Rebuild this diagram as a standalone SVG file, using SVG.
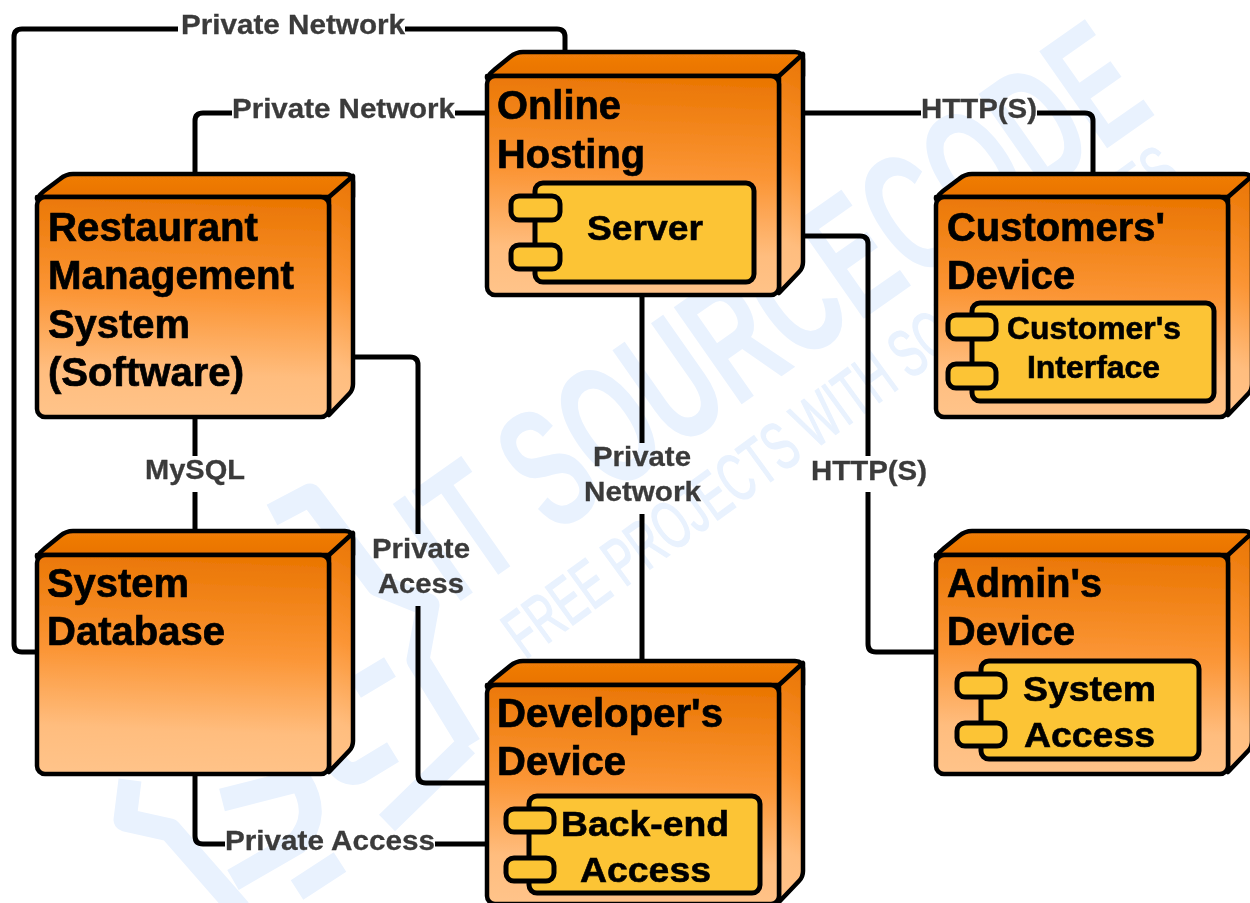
<svg xmlns="http://www.w3.org/2000/svg" width="1250" height="903" viewBox="0 0 1250 903">
<defs>
<linearGradient id="front" x1="0.52" y1="0" x2="0.47" y2="1"><stop offset="0" stop-color="#ea7603"/><stop offset="0.45" stop-color="#fb9535"/><stop offset="0.8" stop-color="#ffbd7e"/><stop offset="1" stop-color="#ffc389"/></linearGradient>
<linearGradient id="topface" x1="0" y1="0" x2="0" y2="1"><stop offset="0" stop-color="#f07d08"/><stop offset="1" stop-color="#e97300"/></linearGradient>
<filter id="soft" filterUnits="userSpaceOnUse" x="0" y="0" width="1250" height="903"><feGaussianBlur stdDeviation="0.6"/></filter>
<style>
.front{fill:url(#front);stroke:#000;stroke-width:4.5;stroke-linejoin:round}
.side{fill:url(#front);stroke:#000;stroke-width:4.5;stroke-linejoin:round}
.top{fill:url(#topface);stroke:#000;stroke-width:4.5;stroke-linejoin:round}
.comp{fill:#fcc435;stroke:#000;stroke-width:5}
.wire{fill:none;stroke:#000;stroke-width:5}
.nt{font-family:"Liberation Sans",Arial,sans-serif;font-weight:700;font-size:40px;fill:#000;stroke:#000;stroke-width:0.7}
.ct{font-family:"Liberation Sans",Arial,sans-serif;font-weight:700;font-size:35px;fill:#000;stroke:#000;stroke-width:0.6}
.cs{font-family:"Liberation Sans",Arial,sans-serif;font-weight:700;font-size:31px;fill:#000;stroke:#000;stroke-width:0.6}
.el{font-family:"Liberation Sans",Arial,sans-serif;font-weight:700;font-size:28px;fill:#3a3a3a;stroke:#3a3a3a;stroke-width:0.3}
.wm{font-family:"Liberation Sans",Arial,sans-serif;fill:#e9f2fe;font-weight:700}
.ws{font-family:"Liberation Sans",Arial,sans-serif;fill:#e9f2fe;stroke:#e9f2fe;stroke-width:1.5;font-weight:400}
.wl{fill:none;stroke:#e9f2fe;stroke-width:23;stroke-linejoin:round}
</style>
</defs>
<rect width="1250" height="903" fill="#fff"/>
<g filter="url(#soft)">
<g id="watermark">
<text class="wm" font-size="172" transform="translate(455 605) rotate(-35)" textLength="858" lengthAdjust="spacingAndGlyphs">IT SOURCECODE</text>
<text class="ws" font-size="68" transform="translate(525 660) rotate(-36)" textLength="815" lengthAdjust="spacingAndGlyphs">FREE PROJECTS WITH SOURCE CODES</text>
<path class="wl" d="M130 780L125 820L170 830L240 910"/>
<path class="wl" d="M272 515L310 495L378 585L428 605L418 660L470 745"/>
<path class="wl" d="M393 752L360 772Q345 778 335 760"/>
<path class="wl" d="M222 800L300 780Q322 815 297 843L233 880"/>
<path class="wl" d="M390 667L355 688M297 890L340 862M387 823L467 745"/>
</g>
<g id="connectors">
<path class="wire" d="M565 52V37Q565 29 557 29H405M178 29H22Q14 29 14 37V644Q14 652 22 652H37"/>
<path class="wire" d="M487 113H455M232 113H203Q195 113 195 121V174"/>
<path class="wire" d="M803 113H921M1037 113H1085Q1093 113 1093 121V174"/>
<path class="wire" d="M803 236H860Q868 236 868 244V456M868 492V644Q868 652 876 652H936"/>
<path class="wire" d="M642 295V443M642 514V661"/>
<path class="wire" d="M195 417V456M195 492V530"/>
<path class="wire" d="M353 357H410Q418 357 418 365V534M418 606V775Q418 783 426 783H487"/>
<path class="wire" d="M195 774V836Q195 844 203 844H225M435 844H487"/>
</g>
<g id="node-online-hosting">
<path class="top" d="M487 78Q490 73 494 70L510 57Q516 52 523 52H795Q803 52 803 60V76H487Z"/>
<path class="side" d="M779 76L803 54V262Q803 268 799 272L779 293Z"/>
<rect class="front" x="487" y="76" width="292" height="219" rx="8"/>
<text class="nt" x="497" y="119" textLength="124" lengthAdjust="spacingAndGlyphs">Online</text>
<text class="nt" x="497" y="168" textLength="148" lengthAdjust="spacingAndGlyphs">Hosting</text>
<rect class="comp" x="535" y="183" width="219" height="99" rx="8"/>
<rect class="comp" x="511" y="196" width="49" height="24" rx="8"/>
<rect class="comp" x="511" y="245" width="49" height="24" rx="8"/>
<text class="ct" x="587" y="240" textLength="116" lengthAdjust="spacingAndGlyphs">Server</text>
</g>
<g id="node-restaurant">
<path class="top" d="M37 199Q40 194 44 191L60 179Q66 174 73 174H345Q353 174 353 182V197H37Z"/>
<path class="side" d="M329 197L353 176V384Q353 390 349 394L329 415Z"/>
<rect class="front" x="37" y="197" width="292" height="220" rx="8"/>
<text class="nt" x="48" y="241" textLength="210" lengthAdjust="spacingAndGlyphs">Restaurant</text>
<text class="nt" x="48" y="289" textLength="246" lengthAdjust="spacingAndGlyphs">Management</text>
<text class="nt" x="48" y="338" textLength="142" lengthAdjust="spacingAndGlyphs">System</text>
<text class="nt" x="48" y="386" textLength="196" lengthAdjust="spacingAndGlyphs">(Software)</text>
</g>
<g id="node-system-database">
<path class="top" d="M37 557Q40 552 44 549L60 536Q66 531 73 531H345Q353 531 353 539V555H37Z"/>
<path class="side" d="M329 555L353 533V741Q353 747 349 751L329 772Z"/>
<rect class="front" x="37" y="555" width="292" height="219" rx="8"/>
<text class="nt" x="47" y="597" textLength="142" lengthAdjust="spacingAndGlyphs">System</text>
<text class="nt" x="47" y="645" textLength="178" lengthAdjust="spacingAndGlyphs">Database</text>
</g>
<g id="node-developer">
<path class="top" d="M487 687Q490 682 494 679L510 666Q516 661 523 661H795Q803 661 803 669V685H487Z"/>
<path class="side" d="M779 685L803 663V871Q803 877 799 881L779 902Z"/>
<rect class="front" x="487" y="685" width="292" height="219" rx="8"/>
<text class="nt" x="497" y="727" textLength="226" lengthAdjust="spacingAndGlyphs">Developer's</text>
<text class="nt" x="497" y="775" textLength="129" lengthAdjust="spacingAndGlyphs">Device</text>
<rect class="comp" x="529" y="796" width="231" height="97" rx="8"/>
<rect class="comp" x="506" y="809" width="48" height="23" rx="8"/>
<rect class="comp" x="506" y="858" width="48" height="23" rx="8"/>
<text class="ct" x="561" y="836" textLength="168" lengthAdjust="spacingAndGlyphs">Back-end</text>
<text class="ct" x="580" y="882" textLength="131" lengthAdjust="spacingAndGlyphs">Access</text>
</g>
<g id="node-customers">
<path class="top" d="M936 199Q939 194 943 191L959 179Q965 174 972 174H1244Q1252 174 1252 182V197H936Z"/>
<path class="side" d="M1228 197L1252 176V384Q1252 390 1248 394L1228 415Z"/>
<rect class="front" x="936" y="197" width="292" height="220" rx="8"/>
<text class="nt" x="947" y="241" textLength="218" lengthAdjust="spacingAndGlyphs">Customers'</text>
<text class="nt" x="947" y="289" textLength="128" lengthAdjust="spacingAndGlyphs">Device</text>
<rect class="comp" x="972" y="303" width="242" height="98" rx="8"/>
<rect class="comp" x="948" y="315" width="48" height="24" rx="8"/>
<rect class="comp" x="948" y="364" width="48" height="24" rx="8"/>
<text class="cs" x="1007" y="339" textLength="174" lengthAdjust="spacingAndGlyphs">Customer's</text>
<text class="cs" x="1027" y="378" textLength="133" lengthAdjust="spacingAndGlyphs">Interface</text>
</g>
<g id="node-admin">
<path class="top" d="M936 557Q939 552 943 549L959 536Q965 531 972 531H1244Q1252 531 1252 539V555H936Z"/>
<path class="side" d="M1228 555L1252 533V741Q1252 747 1248 751L1228 772Z"/>
<rect class="front" x="936" y="555" width="292" height="219" rx="8"/>
<text class="nt" x="947" y="597" textLength="155" lengthAdjust="spacingAndGlyphs">Admin's</text>
<text class="nt" x="947" y="645" textLength="128" lengthAdjust="spacingAndGlyphs">Device</text>
<rect class="comp" x="981" y="661" width="218" height="98" rx="8"/>
<rect class="comp" x="957" y="674" width="48" height="23" rx="8"/>
<rect class="comp" x="957" y="723" width="48" height="23" rx="8"/>
<text class="ct" x="1023" y="701" textLength="133" lengthAdjust="spacingAndGlyphs">System</text>
<text class="ct" x="1024" y="747" textLength="131" lengthAdjust="spacingAndGlyphs">Access</text>
</g>
<g id="edge-labels">
<text class="el" x="181" y="34" textLength="224" lengthAdjust="spacingAndGlyphs">Private Network</text>
<text class="el" x="232" y="118" textLength="223" lengthAdjust="spacingAndGlyphs">Private Network</text>
<text class="el" x="921" y="118" textLength="116" lengthAdjust="spacingAndGlyphs">HTTP(S)</text>
<text class="el" x="145" y="479" textLength="100" lengthAdjust="spacingAndGlyphs">MySQL</text>
<text class="el" x="372" y="558" textLength="98" lengthAdjust="spacingAndGlyphs">Private</text>
<text class="el" x="378" y="593" textLength="86" lengthAdjust="spacingAndGlyphs">Acess</text>
<text class="el" x="225" y="850" textLength="210" lengthAdjust="spacingAndGlyphs">Private Access</text>
<text class="el" x="593" y="466" textLength="98" lengthAdjust="spacingAndGlyphs">Private</text>
<text class="el" x="584" y="501" textLength="117" lengthAdjust="spacingAndGlyphs">Network</text>
<text class="el" x="811" y="480" textLength="116" lengthAdjust="spacingAndGlyphs">HTTP(S)</text>
</g>
</g>
</svg>
